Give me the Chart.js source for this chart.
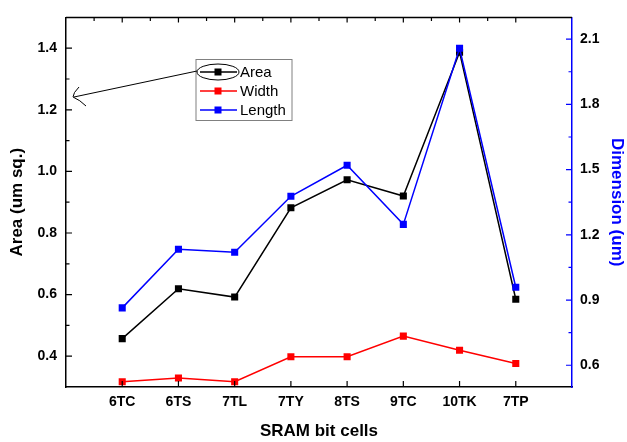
<!DOCTYPE html>
<html lang="en">
<head>
<meta charset="UTF-8" />
<title>SRAM bit cells</title>
<script src="https://cdn.jsdelivr.net/npm/chart.js"></script>
<style>
  body { margin: 0; background: #fff; }
</style>
</head>
<body>
<canvas id="myChart" width="627" height="442"></canvas>
<script>
const cells = ['6TC', '6TS', '7TL', '7TY', '8TS', '9TC', '10TK', '7TP'];
const areaVals = [0.457, 0.619, 0.592, 0.882, 0.973, 0.920, 1.387, 0.585];
const widthVals = [0.524, 0.541, 0.524, 0.639, 0.639, 0.734, 0.669, 0.608];
const lengthVals = [0.864, 1.134, 1.120, 1.377, 1.520, 1.248, 2.058, 0.959];
const areaTicks = [0.4, 0.6, 0.8, 1.0, 1.2, 1.4];
const areaMinor = [0.5, 0.7, 0.9, 1.1, 1.3];
const dimTicks = [0.6, 0.9, 1.2, 1.5, 1.8, 2.1];
const dimMinor = [0.75, 1.05, 1.35, 1.65, 1.95];

const toPoints = (vals) => vals.map((v, i) => ({ x: i + 1, y: v }));

const series = (label, vals, color, axis, order) => ({
  label: label,
  data: toPoints(vals),
  yAxisID: axis,
  borderColor: color,
  backgroundColor: color,
  borderWidth: 1.5,
  pointStyle: 'rect',
  pointRadius: 5,
  pointBorderWidth: 0,
  pointBackgroundColor: color,
  tension: 0,
  order: order
});

// inward tick marks, top border, legend box and the hand-drawn arrow
const decor = {
  id: 'decor',
  afterDraw(chart) {
    const ctx = chart.ctx;
    const { top, bottom, left, right } = chart.chartArea;
    const x = chart.scales.x, y = chart.scales.y, y1 = chart.scales.y1;
    ctx.save();
    ctx.lineWidth = 1.5;
    ctx.strokeStyle = '#000';
    ctx.beginPath();
    ctx.moveTo(left, top);
    ctx.lineTo(right, top);
    ctx.stroke();

    ctx.lineWidth = 1.2;
    ctx.beginPath();
    areaTicks.forEach(v => { const p = y.getPixelForValue(v); ctx.moveTo(left, p); ctx.lineTo(left + 6, p); });
    areaMinor.forEach(v => { const p = y.getPixelForValue(v); ctx.moveTo(left, p); ctx.lineTo(left + 3.5, p); });
    cells.forEach((c, i) => {
      const p = x.getPixelForValue(i + 1);
      ctx.moveTo(p, bottom); ctx.lineTo(p, bottom - 6);
      ctx.moveTo(p, top); ctx.lineTo(p, top + 5);
      const h = x.getPixelForValue(i + 0.5);
      ctx.moveTo(h, top); ctx.lineTo(h, top + 3.5);
    });
    ctx.stroke();

    ctx.strokeStyle = '#0000ff';
    ctx.beginPath();
    dimTicks.forEach(v => { const p = y1.getPixelForValue(v); ctx.moveTo(right, p); ctx.lineTo(right - 6, p); });
    dimMinor.forEach(v => { const p = y1.getPixelForValue(v); ctx.moveTo(right, p); ctx.lineTo(right - 3.5, p); });
    ctx.stroke();

    // legend
    ctx.strokeStyle = '#808080';
    ctx.lineWidth = 1;
    ctx.strokeRect(196, 59.5, 96, 61);
    ctx.font = '15px "Liberation Sans", Arial, sans-serif';
    ctx.textBaseline = 'middle';
    ctx.textAlign = 'left';
    chart.data.datasets.forEach((ds, i) => {
      const ly = 72 + i * 19;
      ctx.strokeStyle = ds.borderColor;
      ctx.lineWidth = 1.5;
      ctx.beginPath();
      ctx.moveTo(200, ly);
      ctx.lineTo(237, ly);
      ctx.stroke();
      ctx.fillStyle = ds.borderColor;
      ctx.fillRect(214.5, ly - 3.5, 7, 7);
      ctx.fillStyle = '#000';
      ctx.fillText(ds.label, 240, ly + 1);
    });

    // ellipse round the Area entry and arrow to the left axis
    ctx.strokeStyle = '#000';
    ctx.lineWidth = 1;
    ctx.beginPath();
    ctx.ellipse(218, 72, 21, 8, 0, 0, Math.PI * 2);
    ctx.stroke();
    ctx.beginPath();
    ctx.moveTo(197, 71);
    ctx.lineTo(74, 97);
    ctx.stroke();
    ctx.beginPath();
    ctx.moveTo(79, 87);
    ctx.quadraticCurveTo(73, 93, 73, 97);
    ctx.quadraticCurveTo(80, 100, 86, 106);
    ctx.stroke();
    ctx.restore();
  }
};

const tickFont = { family: 'Arial, "Liberation Sans", sans-serif', size: 14, weight: 'bold' };
const titleFont = { family: 'Arial, "Liberation Sans", sans-serif', size: 17, weight: 'bold' };

const config = {
  type: 'line',
  data: {
    datasets: [
      series('Area', areaVals, '#000000', 'y', 3),
      series('Width', widthVals, '#ff0000', 'y1', 2),
      series('Length', lengthVals, '#0000ff', 'y1', 1)
    ]
  },
  options: {
    responsive: false,
    animation: false,
    devicePixelRatio: 1,
    layout: { padding: { top: 11, left: 0, right: 0, bottom: 0 } },
    plugins: { legend: { display: false }, tooltip: { enabled: false } },
    scales: {
      x: {
        type: 'linear',
        min: 0,
        max: 9,
        afterBuildTicks: (s) => { s.ticks = cells.map((c, i) => ({ value: i + 1 })); },
        afterFit: (s) => { s.height = 55; },
        ticks: { callback: (v) => cells[v - 1] || '', color: '#000', font: tickFont, padding: 7, autoSkip: false, maxRotation: 0 },
        grid: { display: false, drawTicks: false },
        border: { display: true, color: '#000', width: 1.5 },
        title: { display: true, text: 'SRAM bit cells', color: '#000', font: titleFont, padding: { top: 0, bottom: 0 } }
      },
      y: {
        position: 'left',
        min: 0.3,
        max: 1.5,
        afterBuildTicks: (s) => { s.ticks = areaTicks.map(v => ({ value: v })); },
        afterFit: (s) => { s.width = 66; },
        ticks: { callback: (v) => v.toFixed(1), color: '#000', font: tickFont, padding: 9 },
        grid: { display: false, drawTicks: false },
        border: { display: true, color: '#000', width: 1.5 },
        title: { display: true, text: 'Area (um sq.)', color: '#000', font: titleFont, padding: { top: 7, bottom: 0 } }
      },
      y1: {
        position: 'right',
        min: 0.5,
        max: 2.2,
        afterBuildTicks: (s) => { s.ticks = dimTicks.map(v => ({ value: v })); },
        afterFit: (s) => { s.width = 55; },
        ticks: { callback: (v) => v.toFixed(1), color: '#000', font: tickFont, padding: 8 },
        grid: { display: false, drawTicks: false },
        border: { display: true, color: '#0000ff', width: 1.5 },
        title: { display: true, text: 'Dimension (um)', color: '#0000ff', font: titleFont, padding: { top: 0, bottom: 0 } }
      }
    }
  },
  plugins: [decor]
};

const myChart = new Chart(document.getElementById('myChart'), config);
</script>
</body>
</html>
